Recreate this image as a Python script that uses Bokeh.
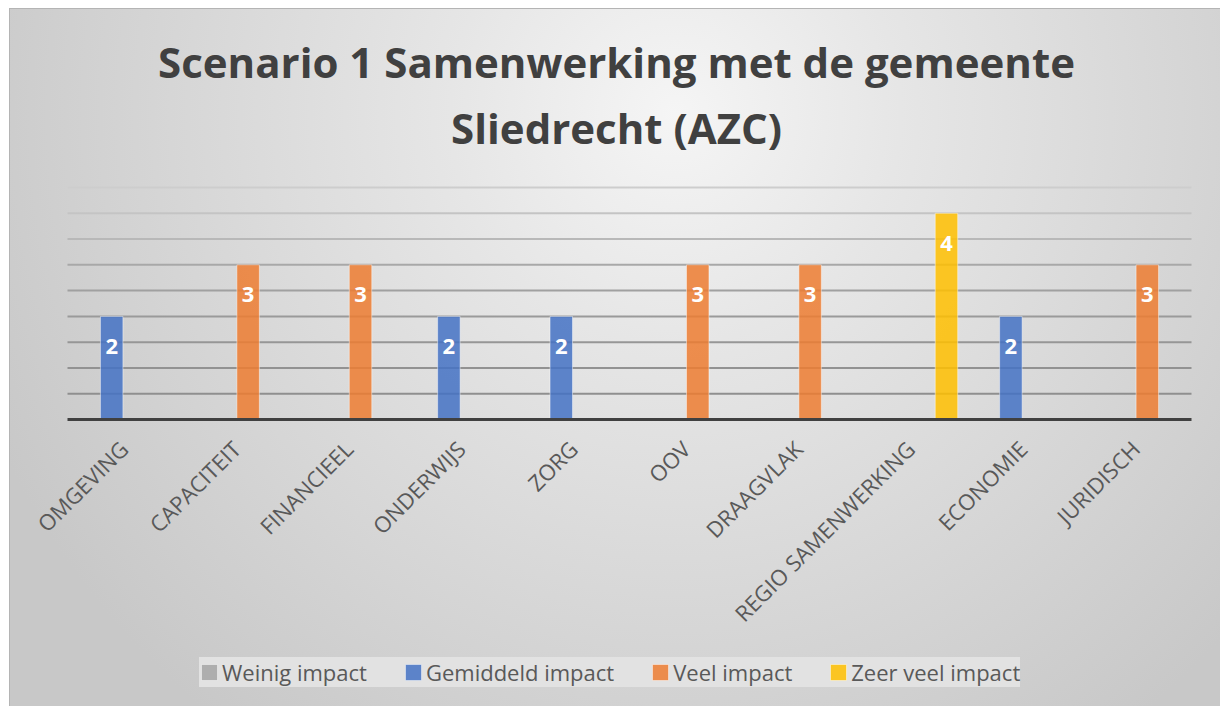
import math
from bokeh.plotting import figure
from bokeh.models import ColumnDataSource, FactorRange, Label, Legend, LegendItem
from bokeh.transform import dodge
from bokeh.core.properties import value
from bokeh.embed import file_html
from bokeh.resources import INLINE

# ---- data ----
categories = ["OMGEVING", "CAPACITEIT", "FINANCIEEL", "ONDERWIJS", "ZORG",
              "OOV", "DRAAGVLAK", "REGIO SAMENWERKING", "ECONOMIE", "JURIDISCH"]
weinig_impact = [0, 0, 0, 0, 0, 0, 0, 0, 0, 0]
gemiddeld_impact = [2, 0, 0, 2, 2, 0, 0, 0, 2, 0]
veel_impact = [0, 3, 3, 0, 0, 3, 3, 0, 0, 3]
zeer_veel_impact = [0, 0, 0, 0, 0, 0, 0, 4, 0, 0]
series_names = ["Weinig impact", "Gemiddeld impact", "Veel impact", "Zeer veel impact"]
title_line_1 = "Scenario 1 Samenwerking met de gemeente"
title_line_2 = "Sliedrecht (AZC)"
grid_levels = [0.5, 1.0, 1.5, 2.0, 2.5, 3.0, 3.5, 4.0, 4.5]

# ---- styles / layout ----
series_values = [weinig_impact, gemiddeld_impact, veel_impact, zeer_veel_impact]
series_colors = ["#A5A5A5", "#4472C4", "#ED7D31", "#FFC000"]
offsets = [-0.32, -0.107, 0.107, 0.32]
grid_colors = ["#8f8f8f", "#929292", "#969696", "#9a9a9a", "#a0a0a0",
               "#a8a8a8", "#b8b8b8", "#c4c4c4", "#cdcdcd"]
FONT = "Open Sans"

W, H = 1220, 706
plot_left, plot_right = 67, 1191          # where the category band lies
band_top_px, axis_px = 187, 419           # pixel rows of y=4.5 and y=0
side_pad = W - plot_right                 # symmetric padding of the frame
frame_left = plot_left - side_pad
cat_px = (plot_right - plot_left) / len(categories)
y_band_top = 4.5
px_per_unit = (axis_px - band_top_px) / y_band_top
y_top = y_band_top + band_top_px / px_per_unit
y_bottom = -(H - axis_px) / px_per_unit

p = figure(
    x_range=FactorRange(factors=categories, range_padding=side_pad / cat_px,
                        range_padding_units="absolute"),
    y_range=(y_bottom, y_top),
    width=W, height=H,
    output_backend="svg", toolbar_location=None,
    min_border_left=frame_left, min_border_right=0,
    min_border_top=0, min_border_bottom=0,
    border_fill_alpha=0, background_fill_alpha=0,
    outline_line_color=None,
)
p.styles = {
    "background": (
        "radial-gradient(ellipse 62% 110% at 55% 15%, #f5f5f5 0%, #e6e6e6 30%, #c8c8c8 100%) "
        "10px 9px / calc(100% - 10px) calc(100% - 9px) no-repeat, "
        "linear-gradient(#b4b4b4, #b4b4b4) 9px 8px / calc(100% - 9px) calc(100% - 8px) no-repeat, "
        "white"
    ),
}
p.title.text = ""

# title, two centred lines (screen units measured from the frame's bottom-left)
title_cx = 616 - frame_left
for txt, ypos in [(title_line_1, 61), (title_line_2, 127)]:
    p.add_layout(Label(x=title_cx, y=H - ypos, x_units="screen", y_units="screen",
                       text=txt, text_font=FONT, text_font_style="bold",
                       text_font_size="42px", text_color="#404040",
                       text_align="center", text_baseline="alphabetic"))

# gridlines across the category band
p.xgrid.visible = False
p.ygrid.visible = False
n = len(categories)
p.segment(x0=0, x1=n, y0=grid_levels, y1=grid_levels, line_color=grid_colors, line_width=2)

# axes
p.yaxis.visible = False
p.xaxis.fixed_location = 0
p.xaxis.axis_line_color = None
p.xaxis.major_tick_line_color = None
p.xaxis.minor_tick_line_color = None
p.xaxis.major_label_orientation = math.pi / 4
p.xaxis.major_label_text_font = FONT
p.xaxis.major_label_text_font_size = "22px"
p.xaxis.major_label_text_color = "#595959"
p.xaxis.major_label_standoff = 19

items = []
label_sources = []
for name, vals, col, off in zip(series_names, series_values, series_colors, offsets):
    src = ColumnDataSource(dict(cat=categories, val=vals))
    r = p.vbar(x=dodge("cat", off, range=p.x_range), top="val", bottom=0, width=0.2,
               source=src, fill_color=col, fill_alpha=0.85,
               line_color="white", line_alpha=0.45, line_width=1)
    items.append(LegendItem(label=name, renderers=[r]))
    lc = [c for c, v in zip(categories, vals) if v > 0]
    lv = [v for v in vals if v > 0]
    if lc:
        label_sources.append((off, ColumnDataSource(dict(cat=lc, val=lv,
                                                         lbl=[str(v) for v in lv]))))

# baseline drawn over the bar bottoms
p.segment(x0=0, x1=n, y0=0, y1=0, line_color="#404040", line_width=3)

for off, lsrc in label_sources:
    p.text(x=dodge("cat", off, range=p.x_range), y="val", text="lbl", source=lsrc,
           text_color="white", text_font=value(FONT), text_font_style="bold",
           text_font_size="22px", text_align="center", text_baseline="middle",
           y_offset=30)

legend = Legend(items=items, orientation="horizontal", location=(161, 19),
                label_text_font=FONT, label_text_font_size="22px",
                label_text_color="#595959", glyph_width=20, glyph_height=20,
                label_standoff=3, spacing=36, padding=8, margin=0,
                background_fill_color="#e2e2e2", background_fill_alpha=1,
                border_line_color=None)
p.add_layout(legend, "center")

open("out.html", "w").write(file_html(p, INLINE))
